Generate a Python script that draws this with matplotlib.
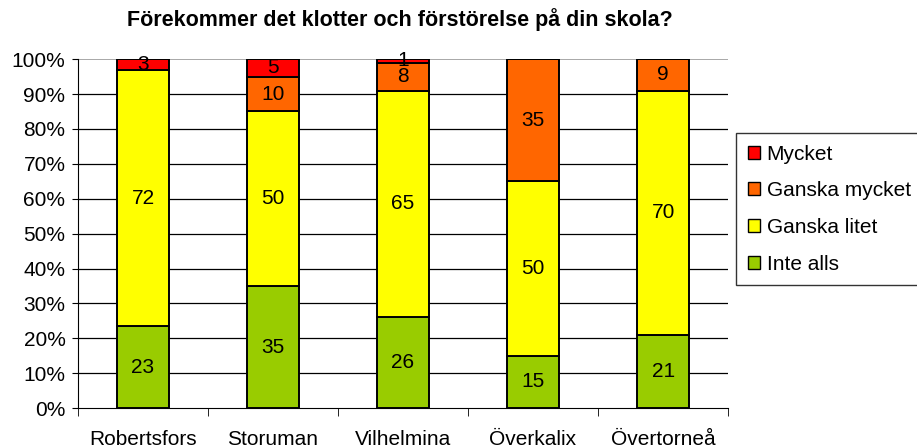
import numpy as np
import matplotlib
matplotlib.use("Agg")
import matplotlib.pyplot as plt
from matplotlib.patches import Patch

plt.rcParams["font.family"] = ["Liberation Sans", "DejaVu Sans"]

schools = ["Robertsfors", "Storuman", "Vilhelmina", "Överkalix", "Övertorneå"]
inte_alls = [23, 35, 26, 15, 21]
ganska_litet = [72, 50, 65, 50, 70]
ganska_mycket = [0, 10, 8, 35, 9]
mycket = [3, 5, 1, 0, 0]

series = [
    ("Inte alls", inte_alls, "#99CC00"),
    ("Ganska litet", ganska_litet, "#FFFF00"),
    ("Ganska mycket", ganska_mycket, "#FF6600"),
    ("Mycket", mycket, "#FF0000"),
]

totals = np.sum([s[1] for s in series], axis=0).astype(float)

fig = plt.figure(figsize=(9.17, 4.48), dpi=100)
ax = fig.add_axes([0.085, 0.089, 0.709, 0.779])

x = np.arange(len(schools))
bottom = np.zeros(len(schools))
for name, vals, color in series:
    vals = np.array(vals, dtype=float)
    pct = vals / totals * 100
    ax.bar(x, pct, 0.4, bottom=bottom, color=color, edgecolor="black",
           linewidth=1.4, zorder=3)
    for xi, v, p, b in zip(x, vals, pct, bottom):
        if v > 0:
            ax.text(xi, b + p / 2, f"{int(v)}", ha="center", va="center",
                    fontsize=15, zorder=4)
    bottom += pct

ax.set_xlim(-0.5, len(schools) - 0.5)
ax.set_ylim(0, 100)
ax.set_yticks(np.arange(0, 101, 10))
ax.set_yticklabels([f"{v}%" for v in range(0, 101, 10)], fontsize=15)
for v in range(10, 100, 10):
    ax.axhline(v, color="black", linewidth=0.9, zorder=1)
ax.axhline(100, color="#999999", linewidth=1.2, zorder=1)

ax.set_xticks(x)
ax.set_xticklabels(schools, fontsize=15)
ax.tick_params(axis="x", length=0, pad=16)
ax.set_xticks(np.arange(-0.5, len(schools)), minor=True)
ax.tick_params(axis="x", which="minor", length=6, color="black")
ax.tick_params(axis="y", length=4, color="black", pad=5)

for s in ["top", "right"]:
    ax.spines[s].set_visible(False)
ax.spines["left"].set_color("black")
ax.spines["bottom"].set_color("black")

fig.text(0.436, 0.957, "Förekommer det klotter och förstörelse på din skola?",
         ha="center", va="center", fontsize=15.5, fontweight="bold")

handles = [Patch(facecolor=c, edgecolor="black", label=n) for n, _, c in series[::-1]]
leg = fig.legend(handles=handles, loc="upper left", bbox_to_anchor=(0.803, 0.703),
                 borderaxespad=0, fontsize=15, frameon=True, fancybox=False,
                 edgecolor="black", handlelength=0.6, handleheight=0.6,
                 handletextpad=0.3, labelspacing=0.85, borderpad=0.55)
leg.get_frame().set_linewidth(1.0)

fig.savefig("out.png", dpi=100)
